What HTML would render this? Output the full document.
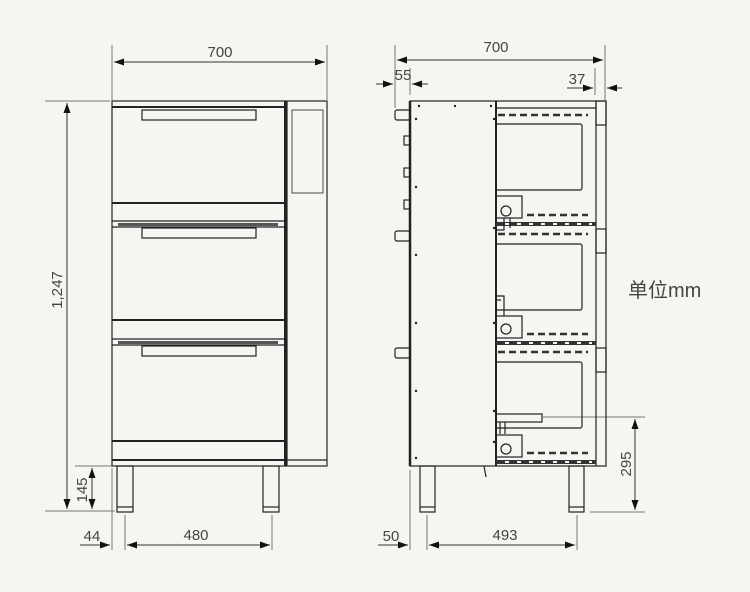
<!DOCTYPE html>
<html><head><meta charset="utf-8"><style>
html,body{margin:0;padding:0;background:#f5f5f2;}
svg{display:block}
text{font-family:"Liberation Sans","Noto Sans CJK SC",sans-serif;fill:#444;}
</style></head><body>
<svg width="750" height="592" viewBox="0 0 750 592" xmlns="http://www.w3.org/2000/svg">
<defs>
<marker id="a" viewBox="0 0 10 10" refX="10" refY="5" markerWidth="10" markerHeight="10" orient="auto-start-reverse"><path d="M0,1.5 L10,5 L0,8.5z" fill="#111"/></marker>
</defs>
<g stroke="#777" stroke-width="1" fill="none">
<line x1="112" y1="45" x2="112" y2="100"/><line x1="327" y1="45" x2="327" y2="100"/>
<line x1="45" y1="101" x2="110" y2="101"/><line x1="45" y1="511" x2="115" y2="511"/>
<line x1="75" y1="466" x2="112" y2="466"/>
<line x1="112" y1="468" x2="112" y2="550"/><line x1="125" y1="515" x2="125" y2="550"/><line x1="272" y1="515" x2="272" y2="550"/>
<line x1="395" y1="45" x2="395" y2="108"/><line x1="605" y1="45" x2="605" y2="100"/>
<line x1="410" y1="68" x2="410" y2="95"/><line x1="595" y1="68" x2="595" y2="95"/>
<line x1="410" y1="470" x2="410" y2="550"/><line x1="427" y1="515" x2="427" y2="550"/><line x1="577" y1="515" x2="577" y2="550"/>
<line x1="543" y1="417" x2="645" y2="417"/><line x1="590" y1="512" x2="645" y2="512"/>
</g>
<g stroke="#333" stroke-width="1" fill="none">
<line x1="114" y1="62" x2="325" y2="62" marker-start="url(#a)" marker-end="url(#a)"/>
<line x1="67" y1="103" x2="67" y2="509" marker-start="url(#a)" marker-end="url(#a)"/>
<line x1="92" y1="468" x2="92" y2="509" marker-start="url(#a)" marker-end="url(#a)"/>
<line x1="80" y1="545" x2="110" y2="545" marker-end="url(#a)"/>
<line x1="127" y1="545" x2="270" y2="545" marker-start="url(#a)" marker-end="url(#a)"/>
<line x1="397" y1="60" x2="603" y2="60" marker-start="url(#a)" marker-end="url(#a)"/>
<line x1="376" y1="84" x2="393" y2="84" marker-end="url(#a)"/><line x1="428" y1="84" x2="412" y2="84" marker-end="url(#a)"/>
<line x1="567" y1="88" x2="593" y2="88" marker-end="url(#a)"/><line x1="622" y1="88" x2="607" y2="88" marker-end="url(#a)"/>
<line x1="378" y1="545" x2="408" y2="545" marker-end="url(#a)"/>
<line x1="429" y1="545" x2="575" y2="545" marker-start="url(#a)" marker-end="url(#a)"/>
<line x1="635" y1="419" x2="635" y2="510" marker-start="url(#a)" marker-end="url(#a)"/>
</g>
<g font-size="15">
<text x="220" y="57" text-anchor="middle">700</text>
<text x="62" y="290" text-anchor="middle" transform="rotate(-90 62 290)">1,247</text>
<text x="87" y="490" text-anchor="middle" transform="rotate(-90 87 490)">145</text>
<text x="92" y="541" text-anchor="middle">44</text>
<text x="196" y="540" text-anchor="middle">480</text>
<text x="496" y="52" text-anchor="middle">700</text>
<text x="403" y="80" text-anchor="middle">55</text>
<text x="577" y="84" text-anchor="middle">37</text>
<text x="391" y="541" text-anchor="middle">50</text>
<text x="505" y="540" text-anchor="middle">493</text>
<text x="631" y="464" text-anchor="middle" transform="rotate(-90 631 464)">295</text>
<text x="628" y="297" font-size="20">单位mm</text>
</g>
<g stroke="#222" fill="none" stroke-width="1.2">
<rect x="112" y="101" width="174" height="365"/>
<rect x="287" y="101" width="40" height="365"/>
<rect x="292" y="110" width="31" height="83" stroke-width="0.8"/>
<line x1="112" y1="107" x2="286" y2="107" stroke-width="2"/>
<line x1="285" y1="101" x2="285" y2="466" stroke-width="2"/>
<line x1="112" y1="203" x2="286" y2="203" stroke-width="2"/>
<line x1="112" y1="221" x2="286" y2="221"/>
<line x1="112" y1="227" x2="286" y2="227"/>
<line x1="112" y1="320" x2="286" y2="320" stroke-width="2"/>
<line x1="112" y1="339" x2="286" y2="339"/>
<line x1="112" y1="345" x2="286" y2="345"/>
<line x1="112" y1="441" x2="286" y2="441" stroke-width="2"/>
<line x1="112" y1="460" x2="286" y2="460" stroke-width="2"/>
<line x1="287" y1="460" x2="327" y2="460"/>
<rect x="142" y="110" width="114" height="10"/>
<rect x="142" y="228" width="114" height="10"/>
<rect x="142" y="346" width="114" height="10"/>
<rect x="117" y="466" width="16" height="46"/>
<rect x="263" y="466" width="16" height="46"/>
<line x1="117" y1="507" x2="133" y2="507"/><line x1="263" y1="507" x2="279" y2="507"/>
</g>
<g fill="#555"><rect x="118" y="223" width="160" height="3"/><rect x="118" y="341" width="160" height="3"/></g>
<g stroke="#222" fill="none" stroke-width="1.2">
<rect x="410" y="101" width="196" height="365"/>
<line x1="410" y1="101" x2="410" y2="466" stroke-width="2.5"/>
<line x1="496" y1="101" x2="496" y2="466" stroke-width="2"/>
<line x1="596" y1="101" x2="596" y2="466"/>
<line x1="496" y1="108" x2="596" y2="108"/>
<rect x="596" y="101" width="10" height="24"/>
<rect x="596" y="229" width="10" height="24"/>
<rect x="596" y="348" width="10" height="24"/>
<rect x="496" y="124" width="86" height="66" rx="2"/>
<rect x="496" y="244" width="86" height="66" rx="2"/>
<rect x="496" y="362" width="86" height="66" rx="2"/>
<line x1="496" y1="224" x2="596" y2="224" stroke-width="4" stroke="#333"/>
<line x1="496" y1="343" x2="596" y2="343" stroke-width="4" stroke="#333"/>
<line x1="496" y1="462" x2="596" y2="462" stroke-width="4" stroke="#333"/>
<rect x="395" y="110" width="15" height="10" rx="2"/>
<rect x="395" y="231" width="15" height="10" rx="2"/>
<rect x="395" y="348" width="15" height="10" rx="2"/>
<rect x="404" y="136" width="6" height="9"/><rect x="404" y="168" width="6" height="9"/><rect x="404" y="200" width="6" height="9"/>
<rect x="496" y="196" width="26" height="22"/><rect x="496" y="316" width="26" height="22"/><rect x="496" y="435" width="26" height="22"/>
<circle cx="506" cy="211" r="5"/><circle cx="506" cy="329" r="5"/><circle cx="506" cy="449" r="5"/>
<path d="M504 218 v12 h-8 M510 218 v10"/>
<path d="M496 296 h8 v20 M496 300 h5"/>
<rect x="496" y="414" width="46" height="8"/>
<path d="M500 422 v12 M505 422 v12"/>
<rect x="420" y="466" width="15" height="46"/><rect x="569" y="466" width="15" height="46"/>
<line x1="420" y1="507" x2="435" y2="507"/><line x1="569" y1="507" x2="584" y2="507"/>
<line x1="484" y1="466" x2="486" y2="477"/>
</g>
<g stroke="#f5f5f2" stroke-width="2" stroke-dasharray="4,8">
<line x1="505" y1="224" x2="592" y2="224"/><line x1="505" y1="343" x2="592" y2="343"/><line x1="505" y1="462" x2="592" y2="462"/>
</g>
<g stroke="#333" stroke-width="2.5" stroke-dasharray="7,4" fill="none">
<line x1="498" y1="115" x2="588" y2="115"/>
<line x1="498" y1="234" x2="588" y2="234"/>
<line x1="498" y1="352" x2="588" y2="352"/>
<line x1="527" y1="215" x2="588" y2="215"/>
<line x1="527" y1="334" x2="588" y2="334"/>
<line x1="527" y1="453" x2="588" y2="453"/>
</g>
<g fill="#222">
<circle cx="419" cy="106" r="1.2"/><circle cx="455" cy="106" r="1.2"/><circle cx="491" cy="106" r="1.2"/>
<circle cx="416" cy="119" r="1.2"/><circle cx="416" cy="187" r="1.2"/><circle cx="416" cy="255" r="1.2"/><circle cx="416" cy="323" r="1.2"/><circle cx="416" cy="391" r="1.2"/><circle cx="416" cy="458" r="1.2"/>
<circle cx="494" cy="119" r="1.2"/><circle cx="494" cy="228" r="1.2"/><circle cx="494" cy="323" r="1.2"/><circle cx="494" cy="411" r="1.2"/><circle cx="494" cy="442" r="1.2"/>
</g>
</svg>
</body></html>
